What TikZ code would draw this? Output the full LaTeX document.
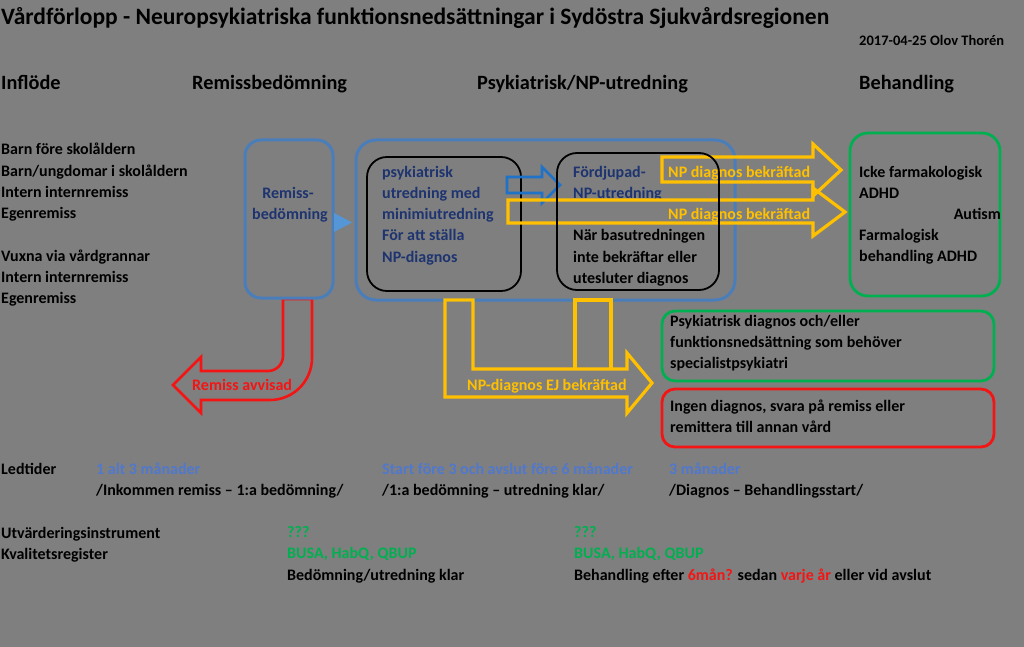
\documentclass[tikz,border=0pt]{standalone}
\usepackage{fontspec}
\setmainfont{Carlito}
\definecolor{bg}{RGB}{127,127,127}
\definecolor{bluebox}{RGB}{74,126,187}
\definecolor{navy}{RGB}{30,52,112}
\definecolor{arrowblue}{RGB}{30,115,200}
\definecolor{tri}{RGB}{85,150,215}
\definecolor{yel}{RGB}{255,192,0}
\definecolor{grn}{RGB}{0,176,80}
\definecolor{myred}{RGB}{245,20,20}
\definecolor{ltblue}{RGB}{80,120,205}
\begin{document}
\begin{tikzpicture}[x=1pt,y=-1pt,
  txt/.style={anchor=west, inner sep=0pt, yshift=-2pt, font=\bfseries\fontsize{16}{19}\selectfont, text height=11.2pt, text depth=3.2pt},
  hdr/.style={anchor=west, inner sep=0pt, yshift=-1.5pt, font=\bfseries\fontsize{20.3}{24}\selectfont, text height=14.2pt, text depth=4pt},
  bluebx/.style={draw=bluebox, line width=3pt, rounded corners=16pt},
  blackbx/.style={draw=black, line width=1.8pt, rounded corners=20pt},
  greenbx/.style={draw=grn, line width=2.8pt, rounded corners=18pt},
  yarrow/.style={draw=yel, line width=3.2pt, line join=miter},
]
\fill[bg] (0,0) rectangle (1024,647);
\useasboundingbox (0,0) rectangle (1024,647);

% title and headers
\node[anchor=west, inner sep=0pt, font=\bfseries\fontsize{23.5}{28}\selectfont, text height=16.5pt, text depth=4.7pt] (title) at (1,19) {Vårdförlopp - Neuropsykiatriska funktionsnedsättningar i Sydöstra Sjukvårdsregionen};
\node[anchor=west, inner sep=0pt, font=\bfseries\fontsize{14.5}{17}\selectfont, text height=10.2pt, text depth=2.9pt] (date) at (859,42) {2017-04-25 Olov Thorén};
\node[hdr] (h1) at (1,83) {Inflöde};
\node[hdr] (h2) at (192,83) {Remissbedömning};
\node[hdr] (h3) at (477,83) {Psykiatrisk/NP-utredning};
\node[hdr] (h4) at (859,83) {Behandling};

% inflow list
\node[txt] (l1) at (1,149) {Barn före skolåldern};
\node[txt] (l2) at (1,170) {Barn/ungdomar i skolåldern};
\node[txt] (l3) at (1,191) {Intern internremiss};
\node[txt] (l4) at (1,212) {Egenremiss};
\node[txt] (l5) at (1,255) {Vuxna via vårdgrannar};
\node[txt] (l6) at (1,276) {Intern internremiss};
\node[txt] (l7) at (1,297) {Egenremiss};

% red U-turn arrow (behind remiss box)
\draw[myred, line width=2.6pt, line join=miter] (283,299) -- (283,356)
  .. controls (283,364.3) and (276.3,371) .. (268,371)
  -- (201,371) -- (201,357) -- (173,385) -- (201,413) -- (201,400) -- (270,400)
  .. controls (293.2,400) and (312,381.2) .. (312,358) -- (312,299) -- cycle;
\node[txt, text=myred] (avv) at (192,384) {Remiss avvisad};

% remiss box
\draw[bluebx] (245,140) rectangle (333,298);
\node[txt, anchor=center, text=navy] (rb1) at (288,192) {Remiss-};
\node[txt, anchor=center, text=navy] (rb2) at (290,213) {bedömning};
\fill[tri] (334,213) -- (352,222.5) -- (334,232) -- cycle;

% big blue box
\draw[bluebx, rounded corners=20pt] (356,140) rectangle (735,300);

% black box 1
\draw[blackbx] (367,157) rectangle (521,291);
\node[txt, text=navy] (p1) at (382,171) {psykiatrisk};
\node[txt, text=navy] (p2) at (382,192) {utredning med};
\node[txt, text=navy] (p3) at (382,213) {minimiutredning};
\node[txt, text=navy] (p4) at (382,234) {För att ställa};
\node[txt, text=navy] (p5) at (382,256) {NP-diagnos};

% blue block arrow
\draw[arrowblue, line width=2.6pt, line join=miter] (507,177) -- (542,177) -- (542,167) -- (560,185) -- (542,203) -- (542,193) -- (507,193) -- cycle;

% box 2 text
\node[txt, text=navy] (f1) at (573,171) {Fördjupad-};
\node[txt, text=navy] (f2) at (573,192) {NP-utredning};
\node[txt] (f3) at (573,234) {När basutredningen};
\node[txt] (f4) at (573,256) {inte bekräftar eller};
\node[txt] (f5) at (573,277) {utesluter diagnos};

% yellow arrows
\draw[yarrow] (662,157) -- (813,157) -- (813,144) -- (841,170) -- (813,196) -- (813,182) -- (662,182) -- cycle;
\node[txt, text=yel] (y1) at (668,171) {NP diagnos bekräftad};
\draw[yarrow] (508,200) -- (813,200) -- (813,188) -- (845,212) -- (813,236) -- (813,223) -- (508,223) -- cycle;
\node[txt, text=yel] (y2) at (668,213) {NP diagnos bekräftad};

\draw[yarrow] (445,300) -- (473,300) -- (473,369) -- (627,369) -- (627,353) -- (652,383) -- (627,413) -- (627,397) -- (445,397) -- cycle;
\draw[yarrow] (575,369) -- (575,300) -- (611,300) -- (611,369);
\node[txt, text=yel] (y3) at (467,384) {NP-diagnos EJ bekräftad};

% black box 2 (drawn over arrow text)
\draw[blackbx] (557,153) rectangle (719,290);

% behandling box
\draw[greenbx] (850,133) rectangle (1000,296);
\node[txt] (b1) at (859,171) {Icke farmakologisk};
\node[txt] (b2) at (859,192) {ADHD};
\node[txt, anchor=east] (b3) at (1001,213) {Autism};
\node[txt] (b4) at (859,234) {Farmalogisk};
\node[txt] (b5) at (859,255) {behandling ADHD};

% outcome boxes
\draw[greenbx, rounded corners=13pt] (662,311) rectangle (994,381);
\node[txt] (g1) at (670,320) {Psykiatrisk diagnos och/eller};
\node[txt] (g2) at (670,341) {funktionsnedsättning som behöver};
\node[txt] (g3) at (670,362) {specialistpsykiatri};
\draw[myred, line width=2.8pt, rounded corners=13pt] (662,389) rectangle (994,447);
\node[txt] (r1) at (670,405) {Ingen diagnos, svara på remiss eller};
\node[txt] (r2) at (670,426) {remittera till annan vård};

% lead times
\node[txt] (lt) at (1,468) {Ledtider};
\node[txt, text=ltblue] (lt1) at (96,468) {1 alt 3 månader};
\node[txt] (lt1b) at (96,489) {/Inkommen remiss – 1:a bedömning/};
\node[txt, text=ltblue] (lt2) at (382,468) {Start före 3 och avslut före 6 månader};
\node[txt] (lt2b) at (382,489) {/1:a bedömning – utredning klar/};
\node[txt, text=ltblue] (lt3) at (669,468) {3 månader};
\node[txt] (lt3b) at (669,489) {/Diagnos – Behandlingsstart/};

% evaluation
\node[txt] (ev1) at (1,532) {Utvärderingsinstrument};
\node[txt] (ev2) at (1,553) {Kvalitetsregister};
\node[txt, text=grn] (q1) at (287,531) {???};
\node[txt, text=grn] (q2) at (287,552) {BUSA, HabQ, QBUP};
\node[txt] (q3) at (287,574) {Bedömning/utredning klar};
\node[txt, text=grn] (q4) at (574,531) {???};
\node[txt, text=grn] (q5) at (574,552) {BUSA, HabQ, QBUP};
\node[txt] (q6) at (574,574) {Behandling efter \textcolor{myred}{6mån?} sedan \textcolor{myred}{varje år} eller vid avslut};
\end{tikzpicture}
\end{document}
